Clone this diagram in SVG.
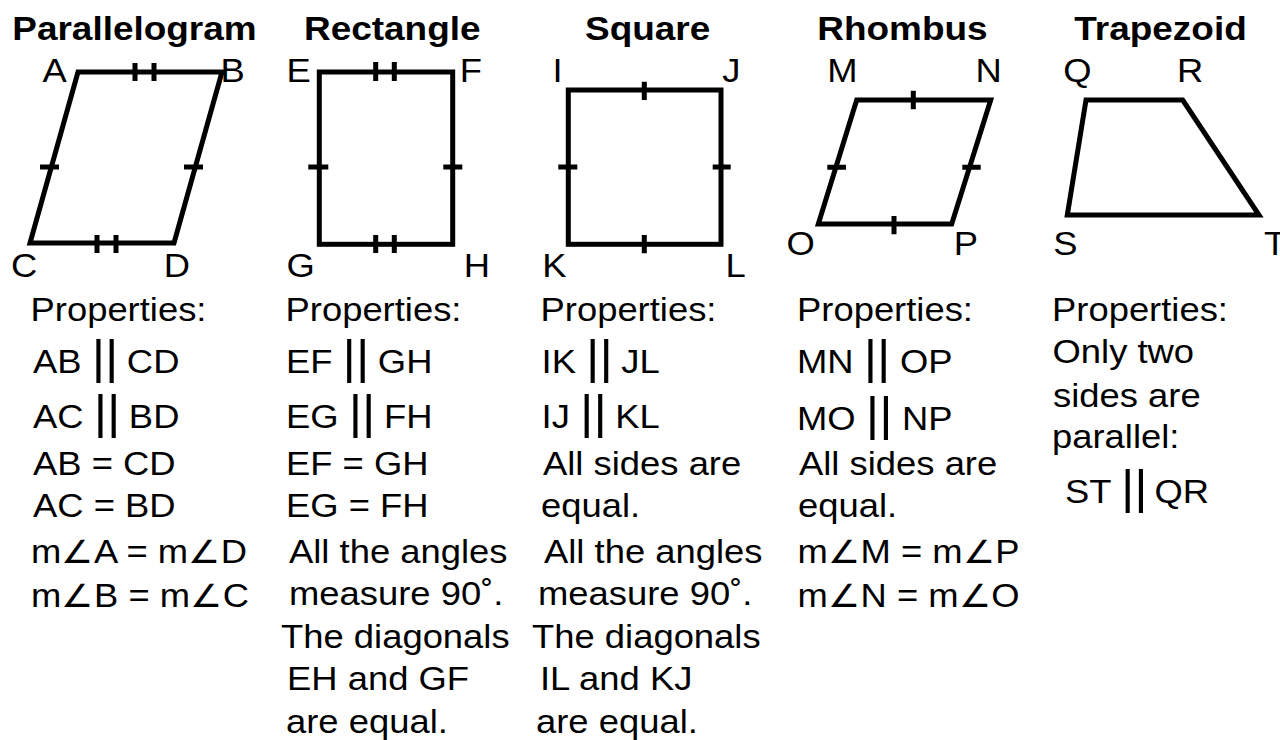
<svg xmlns="http://www.w3.org/2000/svg" width="1280" height="740" viewBox="0 0 1280 740">
<style>
  text { font-family: "Liberation Sans", Arial, sans-serif; fill: #000; }
  .t { font-size: 32.5px; }
  .h { font-size: 33px; font-weight: bold; }
  .bar { font-size: 46px; }
  .shape { fill: none; stroke: #000; stroke-width: 5; stroke-linejoin: miter; }
  .tick { stroke: #000; stroke-width: 5; fill: none; }
</style>
<rect width="1280" height="740" fill="#fff"/>

<g id="parallelogram">
  <text class="h" transform="matrix(1.12 0 0 1 12.3 40)">Parallelogram</text>
  <polygon class="shape" points="78,72 222,72 174,243 30,243"/>
  <path class="tick" d="M135,63 V81 M154,63 V81 M97,235 V253 M116,235 V253 M40,167 H59 M184,167 H203"/>
  <text class="t" transform="matrix(1.12 0 0 1 42.5 81.7)">A</text>
  <text class="t" transform="matrix(1.12 0 0 1 220.4 81.7)">B</text>
  <text class="t" transform="matrix(1.12 0 0 1 10.9 276.7)">C</text>
  <text class="t" transform="matrix(1.12 0 0 1 163.8 276.7)">D</text>
  <text class="t" transform="matrix(1.12 0 0 1 30.5 321)">Properties:</text>
  <text class="t" transform="matrix(1.12 0 0 1 33 373)">AB <tspan class="bar">||</tspan><tspan dx="-1.5"> CD</tspan></text>
  <text class="t" transform="matrix(1.12 0 0 1 33 428)">AC <tspan class="bar">||</tspan><tspan dx="-1.5"> BD</tspan></text>
  <text class="t" transform="matrix(1.12 0 0 1 33 475)">AB = CD</text>
  <text class="t" transform="matrix(1.12 0 0 1 33 517)">AC = BD</text>
  <text class="t" transform="matrix(1.12 0 0 1 31 563)">m∠A = m∠D</text>
  <text class="t" transform="matrix(1.12 0 0 1 31 607)">m∠B = m∠C</text>
</g>

<g id="rectangle">
  <text class="h" transform="matrix(1.12 0 0 1 304 40)">Rectangle</text>
  <rect class="shape" x="319.3" y="72" width="133.4" height="172.3"/>
  <path class="tick" d="M375.7,62 V81 M394.3,62 V81 M375.7,235 V253 M394.3,235 V253 M308.3,167 H328.3 M443.3,167 H462.3"/>
  <text class="t" transform="matrix(1.12 0 0 1 286.4 81.7)">E</text>
  <text class="t" transform="matrix(1.12 0 0 1 459.7 81.7)">F</text>
  <text class="t" transform="matrix(1.12 0 0 1 286.6 276.7)">G</text>
  <text class="t" transform="matrix(1.12 0 0 1 463.8 276.7)">H</text>
  <text class="t" transform="matrix(1.12 0 0 1 285.5 321)">Properties:</text>
  <text class="t" transform="matrix(1.12 0 0 1 286 373)">EF <tspan class="bar">||</tspan><tspan dx="-1.5"> GH</tspan></text>
  <text class="t" transform="matrix(1.12 0 0 1 286 428)">EG <tspan class="bar">||</tspan><tspan dx="-1.5"> FH</tspan></text>
  <text class="t" transform="matrix(1.12 0 0 1 286 475)">EF = GH</text>
  <text class="t" transform="matrix(1.12 0 0 1 286 517)">EG = FH</text>
  <text class="t" transform="matrix(1.12 0 0 1 289 563)">All the angles</text>
  <text class="t" transform="matrix(1.12 0 0 1 289 605)">measure 90˚.</text>
  <text class="t" transform="matrix(1.12 0 0 1 281 648)">The diagonals</text>
  <text class="t" transform="matrix(1.12 0 0 1 287 690)">EH and GF</text>
  <text class="t" transform="matrix(1.12 0 0 1 286 733)">are equal.</text>
</g>

<g id="square">
  <text class="h" transform="matrix(1.12 0 0 1 585 40)">Square</text>
  <rect class="shape" x="568.3" y="90" width="152.7" height="154.3"/>
  <path class="tick" d="M644.3,81.7 V100 M644.3,235 V253.3 M558.3,167 H577.3 M712.7,167 H730.7"/>
  <text class="t" transform="matrix(1.12 0 0 1 552.6 81.7)">I</text>
  <text class="t" transform="matrix(1.12 0 0 1 722.3 81.7)">J</text>
  <text class="t" transform="matrix(1.12 0 0 1 542.3 276.7)">K</text>
  <text class="t" transform="matrix(1.12 0 0 1 725.6 276.7)">L</text>
  <text class="t" transform="matrix(1.12 0 0 1 540.5 321)">Properties:</text>
  <text class="t" transform="matrix(1.12 0 0 1 541.6 373)">IK <tspan class="bar">||</tspan><tspan dx="-1.5"> JL</tspan></text>
  <text class="t" transform="matrix(1.12 0 0 1 541.6 428)">IJ <tspan class="bar">||</tspan><tspan dx="-1.5"> KL</tspan></text>
  <text class="t" transform="matrix(1.12 0 0 1 543 475)">All sides are</text>
  <text class="t" transform="matrix(1.12 0 0 1 541 517)">equal.</text>
  <text class="t" transform="matrix(1.12 0 0 1 544 563)">All the angles</text>
  <text class="t" transform="matrix(1.12 0 0 1 538 605)">measure 90˚.</text>
  <text class="t" transform="matrix(1.12 0 0 1 532 648)">The diagonals</text>
  <text class="t" transform="matrix(1.12 0 0 1 540 690)">IL and KJ</text>
  <text class="t" transform="matrix(1.12 0 0 1 536 733)">are equal.</text>
</g>

<g id="rhombus">
  <text class="h" transform="matrix(1.12 0 0 1 817.3 40)">Rhombus</text>
  <polygon class="shape" points="856.7,100 990.7,100 951.7,224 818.3,224"/>
  <path class="tick" d="M913.3,90.7 V109.3 M894,216 V234.3 M827.3,167.3 H846 M962.3,167.3 H980.7"/>
  <text class="t" transform="matrix(1.12 0 0 1 827.3 81.7)">M</text>
  <text class="t" transform="matrix(1.12 0 0 1 975.5 81.7)">N</text>
  <text class="t" transform="matrix(1.12 0 0 1 786.6 255)">O</text>
  <text class="t" transform="matrix(1.12 0 0 1 953.8 255)">P</text>
  <text class="t" transform="matrix(1.12 0 0 1 797 321)">Properties:</text>
  <text class="t" transform="matrix(1.12 0 0 1 797 373)">MN <tspan class="bar">||</tspan><tspan dx="-0.5"> OP</tspan></text>
  <text class="t" transform="matrix(1.12 0 0 1 797 430)">MO <tspan class="bar">||</tspan><tspan dx="-0.5"> NP</tspan></text>
  <text class="t" transform="matrix(1.12 0 0 1 799 475)">All sides are</text>
  <text class="t" transform="matrix(1.12 0 0 1 798 517)">equal.</text>
  <text class="t" transform="matrix(1.12 0 0 1 797.5 563)">m∠M = m∠P</text>
  <text class="t" transform="matrix(1.12 0 0 1 797.5 607)">m∠N = m∠O</text>
</g>

<g id="trapezoid">
  <text class="h" transform="matrix(1.12 0 0 1 1074.3 40)">Trapezoid</text>
  <polygon class="shape" points="1086,100 1182.7,100 1259,215 1067.3,215"/>
  <text class="t" transform="matrix(1.12 0 0 1 1063.3 81.7)">Q</text>
  <text class="t" transform="matrix(1.12 0 0 1 1177 81.7)">R</text>
  <text class="t" transform="matrix(1.12 0 0 1 1053.3 255)">S</text>
  <text class="t" transform="matrix(1.12 0 0 1 1264 255)">T</text>
  <text class="t" transform="matrix(1.12 0 0 1 1052 321)">Properties:</text>
  <text class="t" transform="matrix(1.12 0 0 1 1052.5 363)">Only two</text>
  <text class="t" transform="matrix(1.12 0 0 1 1053 407)">sides are</text>
  <text class="t" transform="matrix(1.12 0 0 1 1052 448)">parallel:</text>
  <text class="t" transform="matrix(1.12 0 0 1 1065 503)">ST <tspan class="bar">||</tspan><tspan dx="-3"> QR</tspan></text>
</g>

<g id="connectors"></g>
</svg>
